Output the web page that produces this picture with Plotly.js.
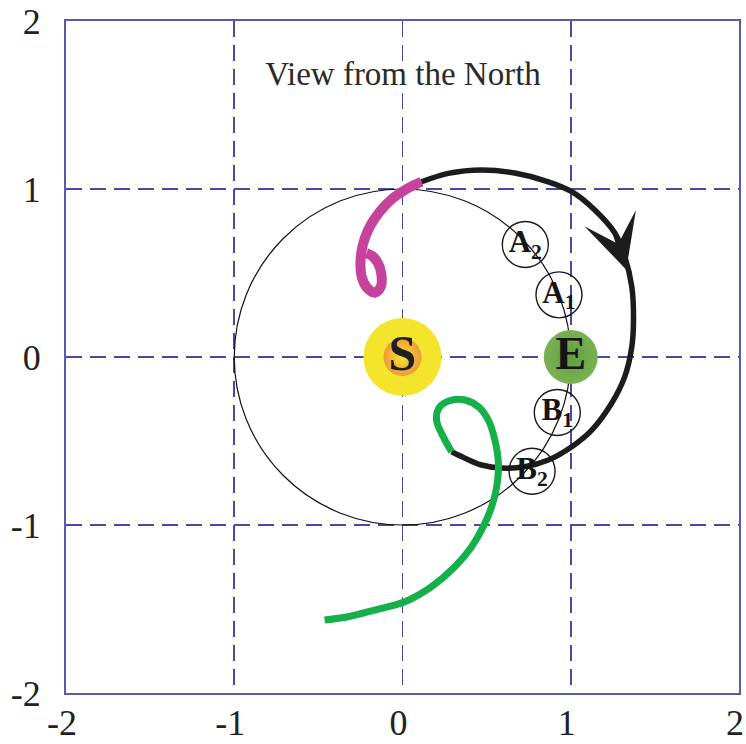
<!DOCTYPE html>
<html>
<head>
<meta charset="utf-8">
<script src="https://cdn.plot.ly/plotly-3.0.1.min.js"></script>
<style>
  html, body { margin: 0; padding: 0; background: #ffffff; }
  #chart { width: 746px; height: 744px; }
</style>
</head>
<body>
<div id="chart"></div>
<script>
// Axis ticks
const tickVals = [-2, -1, 0, 1, 2];
const tickText = ['-2', '-1', '0', '1', '2'];

// Earth's orbit (radius in AU)
const orbitRadius = 1;

// Sun and Earth positions
const sunX = [0], sunY = [0];
const earthX = [1], earthY = [0];

// Positions of the marked points on the orbit
const markX = [0.73, 0.93, 0.92, 0.77];
const markY = [0.67, 0.37, -0.33, -0.68];
const markText = ['A<sub>2</sub>', 'A<sub>1</sub>', 'B<sub>1</sub>', 'B<sub>2</sub>'];

// Magenta segment of the path (incoming loop)
const magentaX = [0.113, 0.024, -0.065, -0.135, -0.189, -0.224, -0.244, -0.25, -0.24, -0.208, -0.165, -0.129, -0.125, -0.145, -0.18, -0.214];
const magentaY = [1.043, 1.0, 0.939, 0.865, 0.786, 0.707, 0.627, 0.548, 0.468, 0.409, 0.383, 0.418, 0.488, 0.558, 0.601, 0.617];

// Black segment of the path (around the Earth)
const blackX = [0.113, 0.272, 0.47, 0.667, 0.867, 1.006, 1.143, 1.262, 1.321, 1.363, 1.373, 1.363, 1.321, 1.244, 1.125, 1.006, 0.867, 0.726, 0.589, 0.47, 0.369, 0.292];
const blackY = [1.043, 1.093, 1.113, 1.095, 1.043, 0.984, 0.875, 0.738, 0.597, 0.418, 0.22, 0.061, -0.117, -0.274, -0.435, -0.534, -0.613, -0.653, -0.661, -0.643, -0.601, -0.564];

// Green segment of the path (outgoing loop)
const greenX = [0.292, 0.242, 0.202, 0.222, 0.292, 0.371, 0.451, 0.51, 0.549, 0.57, 0.56, 0.53, 0.48, 0.411, 0.311, 0.173, 0.014, -0.165, -0.323, -0.463];
const greenY = [-0.564, -0.474, -0.375, -0.296, -0.256, -0.256, -0.296, -0.375, -0.494, -0.633, -0.772, -0.891, -1.01, -1.129, -1.249, -1.367, -1.457, -1.506, -1.546, -1.565];

// Direction arrow on the black segment: [tail, tip]
const arrowX = [1.262, 1.33];
const arrowY = [0.738, 0.52];

const serif = 'Liberation Serif, Times New Roman, serif';

const traces = [
  {
    x: magentaX, y: magentaY, mode: 'lines', type: 'scatter',
    line: { color: '#c6429c', width: 10, shape: 'spline' },
    hoverinfo: 'skip'
  },
  {
    x: blackX, y: blackY, mode: 'lines', type: 'scatter',
    line: { color: '#1c1c1c', width: 5.5, shape: 'spline' },
    hoverinfo: 'skip'
  },
  {
    x: greenX, y: greenY, mode: 'lines', type: 'scatter',
    line: { color: '#16b04a', width: 7, shape: 'spline' },
    hoverinfo: 'skip'
  },
  // Sun: yellow disk with a soft orange core
  {
    x: sunX, y: sunY, mode: 'markers', type: 'scatter',
    marker: { size: 78, color: '#f4e52c', line: { width: 0 } },
    hoverinfo: 'skip'
  },
  {
    x: sunX, y: sunY, mode: 'markers', type: 'scatter',
    marker: { size: 38, color: '#ee9a3c', gradient: { type: 'radial', color: '#f4e52c' }, line: { width: 0 } },
    hoverinfo: 'skip'
  },
  {
    x: sunX, y: sunY, mode: 'text', type: 'scatter',
    text: ['S'], textposition: 'middle center',
    textfont: { family: serif, size: 50, color: '#1e1e28', weight: 'bold' },
    hoverinfo: 'skip'
  },
  // Earth
  {
    x: earthX, y: earthY, mode: 'markers+text', type: 'scatter',
    marker: { size: 54, color: '#7ab253', gradient: { type: 'radial', color: '#639e40' }, line: { width: 0 } },
    text: ['E'], textposition: 'middle center',
    textfont: { family: serif, size: 46, color: '#151515', weight: 'bold' },
    hoverinfo: 'skip'
  },
  // Circled markers on the orbit
  {
    x: markX, y: markY, mode: 'markers+text', type: 'scatter',
    marker: { symbol: 'circle-open', size: 46, color: '#1a1a1a', line: { width: 1.4 } },
    text: markText, textposition: 'middle center',
    textfont: { family: serif, size: 31, color: '#151515', weight: 'bold' },
    hoverinfo: 'skip'
  }
];

const axisStyle = {
  range: [-2, 2],
  tickvals: tickVals, ticktext: tickText,
  showgrid: true, gridcolor: '#4a4aa4', gridwidth: 1.8, griddash: '16px,8px',
  zeroline: false,
  showline: true, mirror: true, linecolor: '#5a5aaa', linewidth: 2,
  tickcolor: 'rgba(0,0,0,0)',
  tickfont: { family: serif, size: 36, color: '#222222' },
  ticklabeloverflow: 'allow',
  fixedrange: true
};

const layout = {
  width: 746,
  height: 744,
  margin: { l: 66, r: 7, t: 21, b: 51 },
  paper_bgcolor: '#ffffff',
  plot_bgcolor: '#ffffff',
  showlegend: false,
  title: {
    text: 'View from the North',
    font: { family: serif, size: 33, color: '#2a2a2a' },
    xref: 'container', yref: 'container',
    x: 403 / 746, xanchor: 'center',
    y: 1 - 73 / 744, yanchor: 'middle'
  },
  xaxis: Object.assign({}, axisStyle, { ticks: '', ticklabelstandoff: -3, ticklabelshift: -4 }),
  yaxis: Object.assign({}, axisStyle, { ticks: 'outside', ticklen: 16 }),
  shapes: [
    {
      type: 'circle', xref: 'x', yref: 'y', layer: 'between',
      x0: -orbitRadius, x1: orbitRadius, y0: -orbitRadius, y1: orbitRadius,
      line: { color: '#111111', width: 1.2 }
    }
  ],
  annotations: [
    {
      x: arrowX[1], y: arrowY[1], ax: arrowX[0], ay: arrowY[0],
      xref: 'x', yref: 'y', axref: 'x', ayref: 'y',
      text: '', showarrow: true,
      arrowhead: 3, arrowsize: 2, arrowwidth: 4.5, arrowcolor: '#1c1c1c',
      standoff: 0
    }
  ]
};

Plotly.newPlot('chart', traces, layout, { staticPlot: true, displayModeBar: false });
</script>
</body>
</html>
